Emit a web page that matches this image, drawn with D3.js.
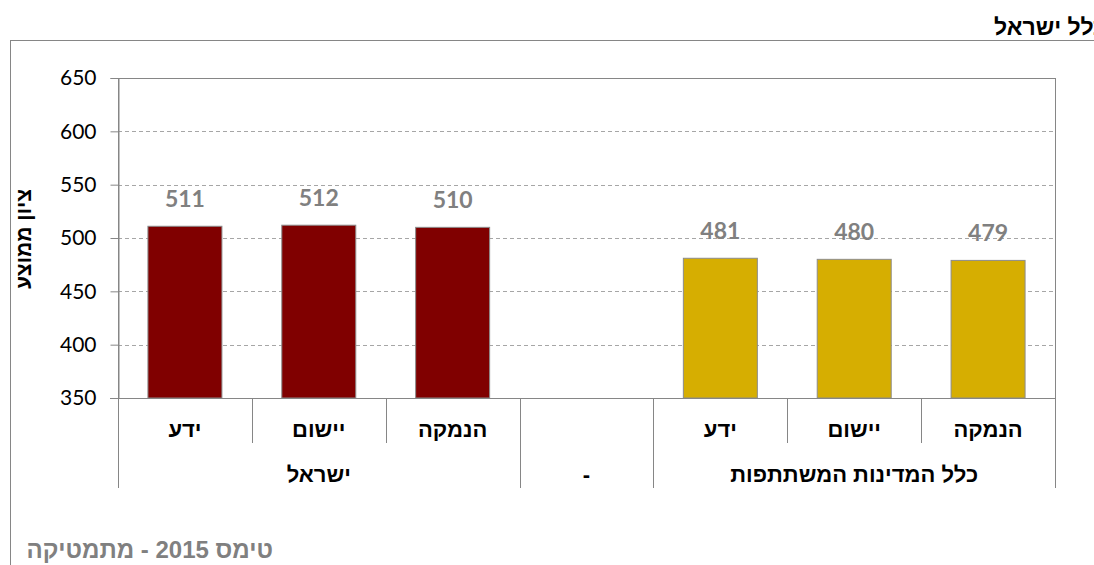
<!DOCTYPE html>
<html>
<head>
<meta charset="utf-8">
<script src="https://cdn.jsdelivr.net/npm/d3@7"></script>
<style>
  body { margin: 0; background: #fff; }
  svg { display: block; }
</style>
</head>
<body>
<div id="chart"></div>
<script>
// data
const groups = ["ישראל", "-", "כלל המדינות המשתתפות"];
const categories = ["ידע", "יישום", "הנמקה", "", "ידע", "יישום", "הנמקה"];
const values = [511, 512, 510, null, 481, 480, 479];
const barColors = ["#800000", "#800000", "#800000", null, "#D6AE01", "#D6AE01", "#D6AE01"];
const yTicks = [350, 400, 450, 500, 550, 600, 650];

const W = 1094, H = 565;
const plot = { left: 118, right: 1055, top: 78, bottom: 398 };
const latin = "Lato, 'Liberation Sans', Arial, sans-serif";
const hebrew = "'Liberation Sans', Arial, sans-serif";

const svg = d3.select("#chart").append("svg")
    .attr("width", W)
    .attr("height", H);

// outer frame (partly cut off)
svg.append("line").attr("x1", 10).attr("x2", W).attr("y1", 40.5).attr("y2", 40.5)
    .attr("stroke", "#868686").attr("stroke-width", 1);
svg.append("line").attr("x1", 10.5).attr("x2", 10.5).attr("y1", 40).attr("y2", H)
    .attr("stroke", "#868686").attr("stroke-width", 1);

// title, runs past the right edge
const title = svg.append("text")
    .attr("y", 35)
    .attr("text-anchor", "end")
    .attr("font-family", hebrew).attr("font-weight", "bold").attr("font-size", 23)
    .text("כלל ישראל");
const tLen = title.node().getComputedTextLength();
title.attr("x", 995 + tLen - 1);

const x = d3.scaleBand()
    .domain(d3.range(categories.length))
    .range([plot.left, plot.right])
    .paddingInner(0).paddingOuter(0);

const y = d3.scaleLinear().domain([350, 650]).range([plot.bottom, plot.top]);

// gridlines
svg.append("g").selectAll("line")
    .data(yTicks.filter(t => t > 350 && t < 650))
    .enter().append("line")
    .attr("x1", plot.left).attr("x2", plot.right)
    .attr("y1", d => Math.round(y(d)) + 0.5).attr("y2", d => Math.round(y(d)) + 0.5)
    .attr("stroke", "#A6A6A6").attr("stroke-dasharray", "4,3");

// plot frame
svg.append("rect")
    .attr("x", plot.left + 0.5).attr("y", plot.top + 0.5)
    .attr("width", plot.right - plot.left).attr("height", plot.bottom - plot.top)
    .attr("fill", "none").attr("stroke", "#868686");

// y axis
const yAxis = svg.append("g")
    .attr("transform", `translate(${plot.left + 0.5},0)`)
    .call(d3.axisLeft(y).tickValues(yTicks).tickSize(8).tickPadding(14));
yAxis.select(".domain").attr("stroke", "#868686");
yAxis.selectAll(".tick line").attr("stroke", "#868686");
yAxis.selectAll("text")
    .attr("font-family", latin).attr("font-size", 21).attr("fill", "#000");

svg.append("text")
    .attr("transform", `translate(31,${(plot.top + plot.bottom) / 2 + 1}) rotate(-90)`)
    .attr("text-anchor", "middle")
    .attr("font-family", hebrew).attr("font-weight", "bold").attr("font-size", 21)
    .text("ציון ממוצע");

// bars
const bw = 74;
const barData = values.map((v, i) => ({ v, i })).filter(d => d.v != null);
svg.append("g").selectAll("rect")
    .data(barData)
    .enter().append("rect")
    .attr("x", d => x(d.i) + x.bandwidth() / 2 - bw / 2)
    .attr("y", d => y(d.v))
    .attr("width", bw)
    .attr("height", d => y(350) - y(d.v))
    .attr("fill", d => barColors[d.i])
    .attr("stroke", "#8C8C8C").attr("stroke-width", 1);

// value labels
svg.append("g").selectAll("text")
    .data(barData)
    .enter().append("text")
    .attr("x", d => x(d.i) + x.bandwidth() / 2)
    .attr("y", d => y(d.v) - 19)
    .attr("text-anchor", "middle")
    .attr("font-family", latin).attr("font-weight", "bold").attr("font-size", 23)
    .attr("fill", "#808080")
    .text(d => d.v);

// x axis line
svg.append("line")
    .attr("x1", plot.left - 8).attr("x2", plot.right)
    .attr("y1", plot.bottom + 0.5).attr("y2", plot.bottom + 0.5)
    .attr("stroke", "#868686");

// category separators
const groupEdges = [0, 3, 4, 7];
d3.range(categories.length + 1).forEach(i => {
  const xp = Math.round(i < categories.length ? x(i) : plot.right) + 0.5;
  const long = groupEdges.includes(i);
  svg.append("line")
    .attr("x1", xp).attr("x2", xp)
    .attr("y1", plot.bottom).attr("y2", long ? 488 : 443)
    .attr("stroke", "#868686");
});

// category labels
svg.append("g").selectAll("text")
    .data(categories)
    .enter().append("text")
    .attr("x", (d, i) => x(i) + x.bandwidth() / 2)
    .attr("y", 437)
    .attr("text-anchor", "middle")
    .attr("font-family", hebrew).attr("font-weight", "bold").attr("font-size", 22)
    .text(d => d);

// group labels
const groupSpans = [[0, 3], [3, 4], [4, 7]];
svg.append("g").selectAll("text")
    .data(groups)
    .enter().append("text")
    .attr("x", (d, i) => {
      const a = x(groupSpans[i][0]);
      const b = groupSpans[i][1] < categories.length ? x(groupSpans[i][1]) : plot.right;
      return (a + b) / 2;
    })
    .attr("y", 482)
    .attr("text-anchor", "middle")
    .attr("font-family", hebrew).attr("font-weight", "bold").attr("font-size", 22)
    .text(d => d);

// footer
svg.append("text")
    .attr("x", 273).attr("y", 558)
    .attr("text-anchor", "end")
    .attr("font-family", hebrew).attr("font-weight", "bold").attr("font-size", 24)
    .attr("fill", "#808080")
    .text("טימס 2015 - מתמטיקה");
</script>
</body>
</html>
